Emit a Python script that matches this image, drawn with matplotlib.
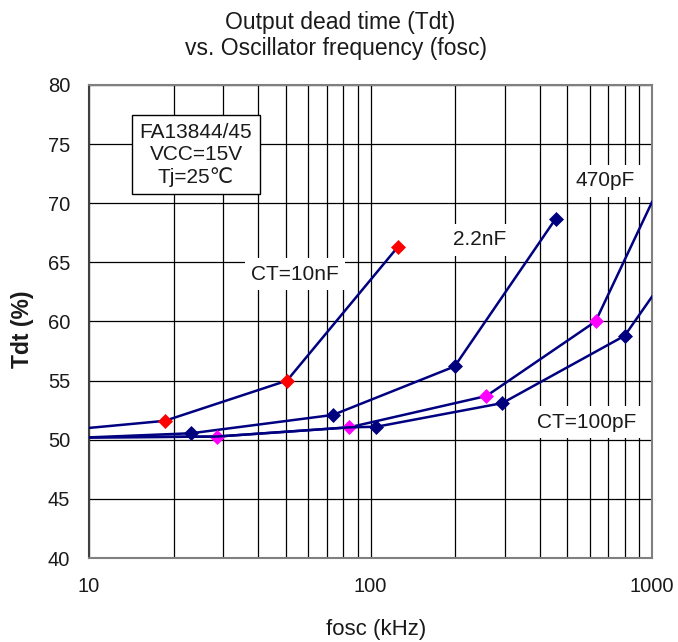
import matplotlib
matplotlib.use("Agg")
import matplotlib.pyplot as plt
from matplotlib.ticker import LogLocator, FixedLocator, NullFormatter, FixedFormatter

plt.rcParams['font.family'] = ['Liberation Sans', 'DejaVu Sans']

# --- data ---
x_10nF = [10, 18.6, 50.5, 125]
y_10nF = [51.0, 51.6, 55.0, 66.3]
mk_10nF = [1, 2, 3]

x_2n2F = [10, 23.1, 73.6, 199, 455]
y_2n2F = [50.2, 50.55, 52.1, 56.2, 68.7]
mk_2n2F = [1, 2, 3, 4]

x_470pF = [10, 28.5, 84, 258, 630, 1000]
y_470pF = [50.2, 50.27, 51.05, 53.7, 60.0, 70.1]
mk_470pF = [1, 2, 3, 4]

x_100pF = [10, 28.5, 84, 105, 294, 800, 1000]
y_100pF = [50.2, 50.27, 51.05, 51.1, 53.1, 58.8, 62.1]
mk_100pF = [3, 4, 5]

x_ticks = [10, 100, 1000]
x_tick_labels = ["10", "100", "1000"]
y_ticks = [40, 45, 50, 55, 60, 65, 70, 75, 80]

line_color = "#000080"
navy = "#00007F"
red = "#FF0000"
magenta = "#FF00FF"
txt = "#1a1a1a"

fig = plt.figure(figsize=(6.78, 6.42), dpi=100)
ax = fig.add_axes([89 / 678, 1 - 558 / 642, (652 - 89) / 678, (558 - 85) / 642])

ax.set_xscale("log")
ax.set_xlim(10, 1000)
ax.set_ylim(40, 80)

ax.xaxis.set_major_locator(FixedLocator(x_ticks))
ax.xaxis.set_major_formatter(FixedFormatter(x_tick_labels))
ax.xaxis.set_minor_locator(LogLocator(base=10, subs=range(2, 10)))
ax.xaxis.set_minor_formatter(NullFormatter())
ax.set_yticks(y_ticks)

ax.grid(True, which="major", color="black", linewidth=0.9)
ax.grid(True, which="minor", axis="x", color="black", linewidth=0.9)
ax.set_axisbelow(True)
ax.tick_params(which="both", length=0, labelsize=14.5, colors=txt)
ax.tick_params(axis="y", pad=13.5)
ax.tick_params(axis="x", pad=14)

for s in ax.spines.values():
    s.set_color("#808080")
    s.set_linewidth(1.5)
ax.spines["left"].set_color("#404040")

series = [
    (x_10nF, y_10nF, mk_10nF, red),
    (x_2n2F, y_2n2F, mk_2n2F, navy),
    (x_470pF, y_470pF, mk_470pF, magenta),
    (x_100pF, y_100pF, mk_100pF, navy),
]
for xs, ys, mk, mc in series:
    ax.plot(xs, ys, color=line_color, linewidth=1.8, marker="D", markevery=mk,
            markersize=7.5, markerfacecolor=mc, markeredgecolor=mc, markeredgewidth=0.5,
            zorder=3, clip_on=True)

ax.text(24.0, 74.1, "FA13844/45\nVCC=15V\nTj=25\u2103", ha="center", va="center",
        fontsize=15, linespacing=1.2, color=txt,
        bbox=dict(facecolor="white", edgecolor="black", linewidth=1.0, boxstyle="square,pad=0.35"),
        zorder=4)
lab_box = dict(facecolor="white", edgecolor="none", boxstyle="square,pad=0.3")
ax.text(53.8, 64.0, "CT=10nF", ha="center", va="center", fontsize=15, color=txt,
        bbox=lab_box, zorder=2.5)
ax.text(244, 66.9, "2.2nF", ha="center", va="center", fontsize=15, color=txt,
        bbox=lab_box, zorder=2.5)
ax.text(680, 71.9, "470pF", ha="center", va="center", fontsize=15, color=txt,
        bbox=lab_box, zorder=2.5)
ax.text(585, 51.5, "CT=100pF", ha="center", va="center", fontsize=15, color=txt,
        bbox=lab_box, zorder=2.5)

fig.text(340 / 678, 1 - 22 / 642, "Output dead time (Tdt)", ha="center", va="center",
         fontsize=16.5, color=txt)
fig.text(336 / 678, 1 - 48 / 642, "vs. Oscillator frequency (fosc)", ha="center", va="center",
         fontsize=16.5, color=txt)
fig.text(376 / 678, 1 - 629 / 642, "fosc (kHz)", ha="center", va="center",
         fontsize=16, color=txt)
fig.text(23 / 678, 1 - 329 / 642, "Tdt (%)", ha="center", va="center", rotation=90,
         fontsize=16.5, fontweight="bold", color=txt)

fig.savefig("out.png", dpi=100)
